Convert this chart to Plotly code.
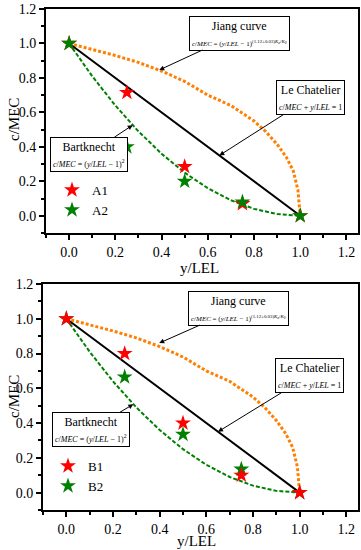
import plotly.graph_objects as go

# ---------------- data ----------------
# Le Chatelier straight line
lc_x = [0.0, 1.0]
lc_y = [1.0, 0.0]

# Bartknecht curve
bk_x = [0.0, 0.1, 0.2, 0.3, 0.4, 0.5, 0.6, 0.7, 0.8, 0.9, 1.0]
bk_y = [1.0, 0.81, 0.64, 0.49, 0.36, 0.25, 0.16, 0.09, 0.04, 0.01, 0.0]

# Jiang curve
jc_x = [0.0, 0.1, 0.2, 0.3, 0.4, 0.5, 0.6, 0.7, 0.8, 0.85, 0.9, 0.94, 0.97, 0.99, 1.0]
jc_y = [1.0, 0.965, 0.93, 0.89, 0.84, 0.78, 0.70, 0.64, 0.55, 0.49, 0.415, 0.34, 0.26, 0.15, 0.0]

# measured points
pts_x = [0.0, 0.25, 0.5, 0.75, 1.0]
a1_y = [1.0, 0.715, 0.285, 0.07, 0.0]
a2_y = [1.0, 0.40, 0.20, 0.08, 0.0]
b1_y = [1.0, 0.80, 0.40, 0.10, 0.0]
b2_y = [1.0, 0.665, 0.335, 0.135, 0.0]

x_ticks = [0.0, 0.2, 0.4, 0.6, 0.8, 1.0, 1.2]
y_ticks = [0.0, 0.2, 0.4, 0.6, 0.8, 1.0, 1.2]
tick_text = ["0.0", "0.2", "0.4", "0.6", "0.8", "1.0", "1.2"]
x_title = "y/LEL"
y_title = "c/MEC"

FONT = "Liberation Serif, Times New Roman, serif"
RED = "#ff0000"
GREEN = "#008000"
ORANGE = "#ff8000"

fig = go.Figure()

for k, (xa, ya) in enumerate([("x", "y"), ("x2", "y2")]):
    fig.add_trace(go.Scatter(x=jc_x, y=jc_y, mode="lines", xaxis=xa, yaxis=ya,
                             line=dict(color=ORANGE, width=3, dash="3px,2px"),
                             showlegend=False, hoverinfo="skip"))
    fig.add_trace(go.Scatter(x=bk_x, y=bk_y, mode="lines", xaxis=xa, yaxis=ya,
                             line=dict(color=GREEN, width=2, dash="4px,2px"),
                             showlegend=False, hoverinfo="skip"))
    fig.add_trace(go.Scatter(x=lc_x, y=lc_y, mode="lines", xaxis=xa, yaxis=ya,
                             line=dict(color="black", width=2),
                             showlegend=False, hoverinfo="skip"))

star = dict(symbol="star", size=12, line=dict(width=0))
# top: A1 red below A2 green
fig.add_trace(go.Scatter(x=pts_x, y=a1_y, mode="markers", name="A1", xaxis="x", yaxis="y",
                         marker=dict(color=RED, **star), legend="legend"))
fig.add_trace(go.Scatter(x=pts_x, y=a2_y, mode="markers", name="A2", xaxis="x", yaxis="y",
                         marker=dict(color=GREEN, **star), legend="legend"))
# bottom: B2 green below B1 red
fig.add_trace(go.Scatter(x=pts_x, y=b2_y, mode="markers", name="B2", xaxis="x2", yaxis="y2",
                         marker=dict(color=GREEN, **star), legend="legend2", legendrank=2))
fig.add_trace(go.Scatter(x=pts_x, y=b1_y, mode="markers", name="B1", xaxis="x2", yaxis="y2",
                         marker=dict(color=RED, **star), legend="legend2", legendrank=1))

def xaxis(domain, anchor):
    return dict(domain=domain, anchor=anchor, range=[-0.1, 1.25], automargin=False,
                tickvals=x_ticks, ticktext=tick_text, ticks="outside", ticklen=5,
                tickwidth=1.5, tickcolor="black",
                minor=dict(dtick=0.1, tick0=0, ticks="outside", ticklen=3, tickwidth=1.5, tickcolor="black"),
                showline=True, linecolor="black", linewidth=2, mirror=True,
                showgrid=False, zeroline=False,
                tickfont=dict(family=FONT, size=14, color="black"))

def yaxis(domain, anchor):
    return dict(domain=domain, anchor=anchor, range=[-0.1, 1.2], automargin=False,
                tickvals=y_ticks, ticktext=tick_text, ticks="outside", ticklen=5,
                tickwidth=1.5, tickcolor="black",
                minor=dict(dtick=0.1, tick0=0, ticks="outside", ticklen=3, tickwidth=1.5, tickcolor="black"),
                showline=True, linecolor="black", linewidth=2, mirror=True,
                showgrid=False, zeroline=False,
                tickfont=dict(family=FONT, size=14, color="black"))

jiang_txt = ("Jiang curve<br><span style='font-size:7px'><i>c</i>/<i>MEC</i> = "
             "(<i>y</i>/<i>LEL</i> − 1)<sup>(1.12±0.03)<i>K<sub>a</sub></i>/<i>K<sub>0</sub></i></sup></span>")
lc_txt = ("Le Chatelier<br><span style='font-size:8px'><i>c</i>/<i>MEC</i> + "
          "<i>y</i>/<i>LEL</i> = 1</span>")
bk_txt = ("Bartknecht<br><span style='font-size:8px'><i>c</i>/<i>MEC</i> = "
          "(<i>y</i>/<i>LEL</i> − 1)<sup>2</sup></span>")

def box(text, xref, yref, x, y, ax, ay):
    return dict(text=text, xref=xref, yref=yref, x=x, y=y, ax=ax, ay=ay,
                showarrow=True, arrowhead=2, arrowsize=1, arrowwidth=1, arrowcolor="black",
                standoff=0, bordercolor="black", borderwidth=1, borderpad=2, bgcolor="white",
                font=dict(family=FONT, size=12, color="black"), align="center")

W, H = 361, 550
# plot area: left margin 43 px, bottom margin 40 px
PL, PB = 43, 40
PW, PH = W - PL, H - PB

def dx(p0, p1):
    return [(p0 - PL) / PW, (p1 - PL) / PW]

def dy(ptop, pbot):
    return [(H - PB - pbot) / PH, (H - PB - ptop) / PH]

def title_ann(text, px, py, angle=0):
    return dict(text=text, xref="paper", yref="paper", x=(px - PL) / PW, y=(H - PB - py) / PH,
                xanchor="center", yanchor="middle", showarrow=False, textangle=angle,
                font=dict(family=FONT, size=15, color="black"))

annotations = [
    box(jiang_txt, "x", "y", 0.39, 0.846, 80, -37),
    box(lc_txt, "x", "y", 0.65, 0.35, 91, -58),
    box(bk_txt, "x", "y", 0.275, 0.526, -44, 29),
    box(jiang_txt, "x2", "y2", 0.398, 0.86, 79, -35),
    box(lc_txt, "x2", "y2", 0.65, 0.35, 91, -56),
    box(bk_txt, "x2", "y2", 0.287, 0.508, -42, 25),
    title_ann(x_title, 199, 268),
    title_ann(y_title, 14, 120, -90),
    title_ann(x_title, 196, 541),
    title_ann(y_title, 14, 397, -90),
]

legend_common = dict(font=dict(family=FONT, size=13, color="black"), bgcolor="rgba(0,0,0,0)",
                     borderwidth=0, itemwidth=30, tracegroupgap=0)

fig.update_layout(
    width=W, height=H, autosize=False,
    margin=dict(l=PL, r=0, t=0, b=PB),
    paper_bgcolor="white", plot_bgcolor="white",
    xaxis=xaxis(dx(46, 358), "y"),
    yaxis=yaxis(dy(9, 233), "x"),
    xaxis2=xaxis(dx(43, 358), "y2"),
    yaxis2=yaxis(dy(284, 510), "x2"),
    annotations=annotations,
    legend=dict(x=(52 - PL) / PW, y=(H - PB - 175) / PH, xanchor="left", yanchor="top", **legend_common),
    legend2=dict(x=(48 - PL) / PW, y=(H - PB - 451) / PH, xanchor="left", yanchor="top", **legend_common),
    showlegend=True,
)

fig.write_html("out.html", config={"displayModeBar": False},
               post_script="document.body.style.margin='0px';")
